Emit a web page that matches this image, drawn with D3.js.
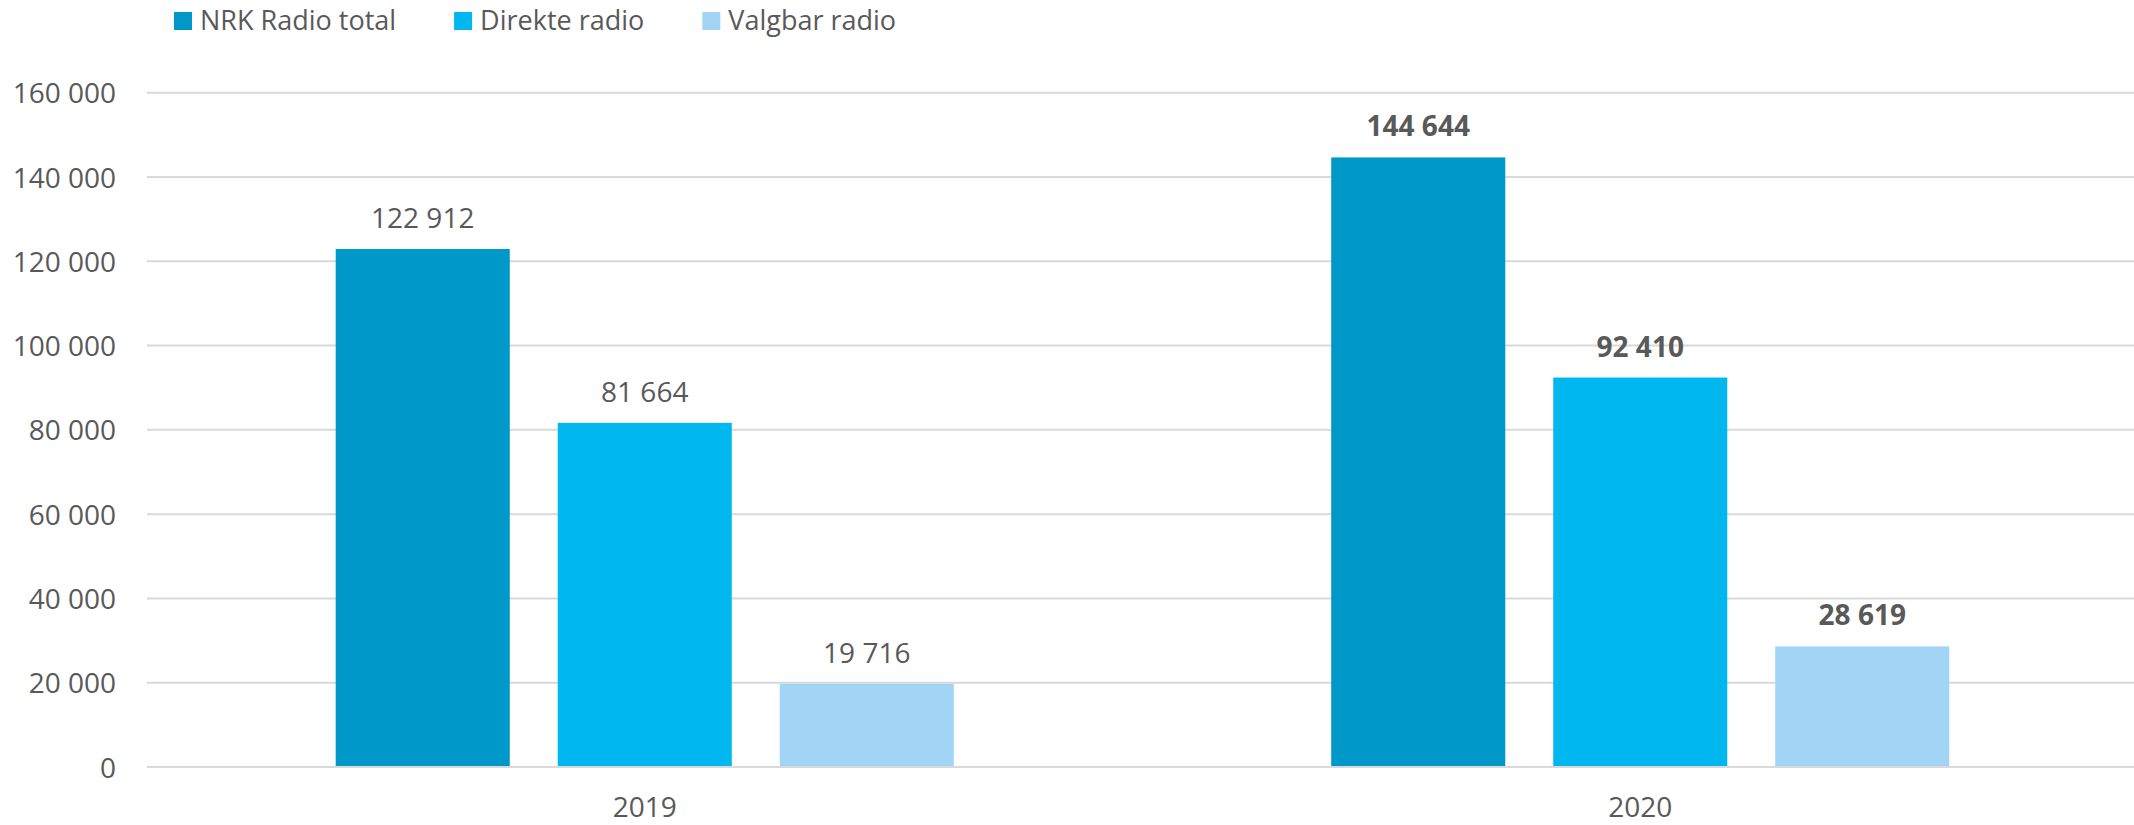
<!DOCTYPE html>
<html>
<head>
<meta charset="utf-8">
<script src="https://cdn.jsdelivr.net/npm/d3@7"></script>
<style>
  body { margin: 0; background: #fff; }
  svg text { font-family: "Open Sans", sans-serif; fill: #595959; }
</style>
</head>
<body>
<script>
// chart values
var years = ["2019", "2020"];
var seriesNames = ["NRK Radio total", "Direkte radio", "Valgbar radio"];
var nrkTotal = [122912, 144644];
var direkteRadio = [81664, 92410];
var valgbarRadio = [19716, 28619];
var yTicks = [0, 20000, 40000, 60000, 80000, 100000, 120000, 140000, 160000];
var boldYears = ["2020"];

var colors = ["#0097C9", "#00B7F0", "#A2D4F5"];

var width = 2134;
var height = 825;

var seriesValues = [nrkTotal, direkteRadio, valgbarRadio];
var rows = years.map(function(y, i) {
  return {
    year: y,
    bars: seriesNames.map(function(s, j) {
      return { series: s, value: seriesValues[j][i], year: y };
    })
  };
});

var fmt = d3.formatLocale({ decimal: ",", thousands: " ", grouping: [3], currency: ["", ""] }).format(",d");

var svg = d3.select("body")
  .append("svg")
    .attr("width", width)
    .attr("height", height);

// scales
var x0 = d3.scaleBand()
  .domain(years)
  .range([147, 2138])
  .padding(0);

var x1 = d3.scaleBand()
  .domain(seriesNames)
  .range([0, x0.bandwidth()])
  .paddingInner(0.216)
  .paddingOuter(0.85);

var yScale = d3.scaleLinear()
  .domain([0, 160000])
  .range([767, 92.7]);

var color = d3.scaleOrdinal()
  .domain(seriesNames)
  .range(colors);

// gridlines
svg.append("g")
  .selectAll("line")
  .data(yTicks)
  .enter()
  .append("line")
    .attr("x1", 147)
    .attr("x2", width)
    .attr("y1", d => yScale(d))
    .attr("y2", d => yScale(d))
    .attr("stroke", "#d9d9d9")
    .attr("stroke-width", 2);

// y axis labels
var yAxis = d3.axisLeft(yScale)
  .tickValues(yTicks)
  .tickFormat(fmt)
  .tickSize(0)
  .tickPadding(0);

var yG = svg.append("g")
  .attr("transform", "translate(116,0)")
  .call(yAxis);
yG.select(".domain").remove();
yG.selectAll("text")
  .attr("x", 0)
  .attr("dy", "0.36em")
  .style("font-size", "28px")
  .style("font-family", "'Open Sans', sans-serif")
  .attr("fill", "#595959");

// bars
var groups = svg.append("g")
  .selectAll("g")
  .data(rows)
  .enter()
  .append("g")
    .attr("transform", d => "translate(" + x0(d.year) + ",0)");

groups.selectAll("rect")
  .data(d => d.bars)
  .enter()
  .append("rect")
    .attr("x", d => x1(d.series))
    .attr("y", d => yScale(d.value))
    .attr("width", x1.bandwidth())
    .attr("height", d => yScale(0) - yScale(d.value) - 1)
    .attr("fill", d => color(d.series));

// value labels
groups.selectAll("text")
  .data(d => d.bars)
  .enter()
  .append("text")
    .attr("x", d => x1(d.series) + x1.bandwidth() / 2)
    .attr("y", d => yScale(d.value) - 21)
    .attr("text-anchor", "middle")
    .style("font-size", "28px")
    .style("font-weight", d => boldYears.indexOf(d.year) >= 0 ? "bold" : "normal")
    .text(d => fmt(d.value));

// x axis labels
var xAxis = d3.axisBottom(x0).tickSize(0).tickPadding(0);
var xG = svg.append("g")
  .attr("transform", "translate(0,767)")
  .call(xAxis);
xG.select(".domain").remove();
xG.selectAll("text")
  .attr("y", 50)
  .attr("dy", 0)
  .style("font-size", "28px")
  .style("font-family", "'Open Sans', sans-serif")
  .attr("fill", "#595959");

// legend
var legend = svg.append("g");
var lx = 174;
seriesNames.forEach(function(s) {
  legend.append("rect")
    .attr("x", lx)
    .attr("y", 12)
    .attr("width", 18)
    .attr("height", 18)
    .attr("fill", color(s));
  var t = legend.append("text")
    .attr("x", lx + 26)
    .attr("y", 29.5)
    .style("font-size", "27px")
    .text(s);
  lx = lx + 26 + t.node().getComputedTextLength() + 58;
});
</script>
</body>
</html>
